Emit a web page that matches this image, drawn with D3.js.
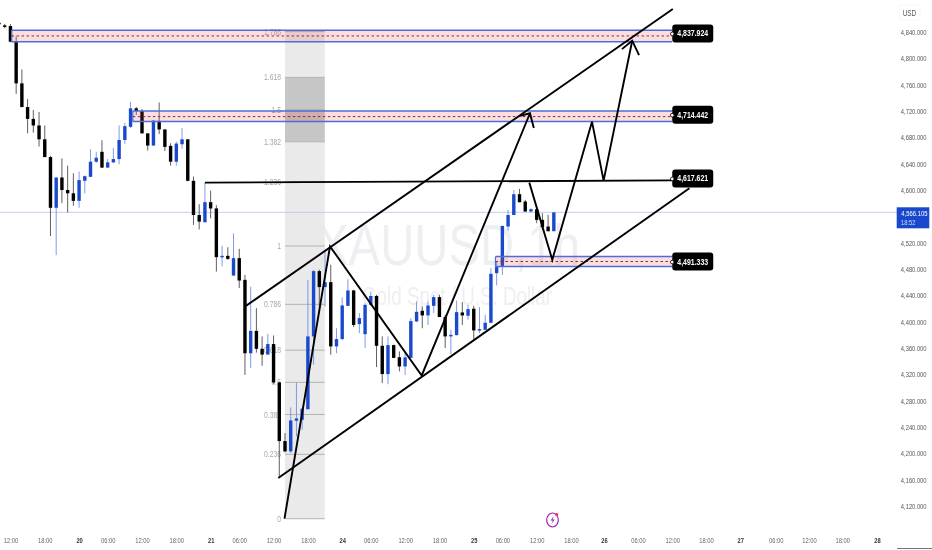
<!DOCTYPE html>
<html>
<head>
<meta charset="utf-8">
<script src="https://cdn.jsdelivr.net/npm/d3@7"></script>
<style>
  html, body { margin: 0; padding: 0; background: #fff; }
  svg { display: block; filter: blur(0.3px); }
  text { font-family: "Liberation Sans", sans-serif; }
</style>
</head>
<body>
<svg id="chart"></svg>
<script>
// hourly candles
let opens = [4854,4850,4849,4825,4762,4726,4708,4698,4677,4650,
  4573,4619,4600,4595,4583.5,4614,4620,4643,4658,4634,
  4642,4647,4676,4696,4724,4720,4686,4667.5,4705,4692,
  4667,4643,4669.5,4677,4614,4562,4551,4581.5,4572,4498,
  4500,4470,4496.5,4463.5,4352,4386,4358.8,4350,4366,4307.7,
  4218.6,4203,4249.5,4251,4267,4377.6,4476.8,4452.5,4460,4362.4,
  4373.5,4424,4447.4,4396.3,4381,4425.6,4439,4363.4,4320.4,4364.4,
  4346,4332,4345,4400.4,4416.5,4409.5,4424,4437.3,4407,4377.6,
  4379.6,4414,4409,4419.6,4387.7,4387.7,4398.3,4473.7,4483.8,4544.5,
  4562,4593.6,4582.5,4567.3,4570.8,4554.6,4544.5,4537.4];
let closes = [4852,4848.6,4825.4,4762,4726,4708,4698,4677,4650,4573,
  4619,4600,4595,4583.5,4615,4621,4643,4649,4634,4642,
  4647,4676,4697,4724,4720,4686,4667.5,4705.4,4692,4665.5,
  4643,4670.5,4677,4614,4562,4552,4581.5,4572,4498,4500,
  4495.4,4496.5,4462.5,4352,4386,4358.8,4350,4366,4307.7,4218.6,
  4203,4250,4253,4267.8,4377.6,4476.8,4452.5,4460,4362.4,4373.5,
  4424.6,4447.4,4395,4405.4,4425.6,4439,4363.4,4320.4,4364.4,4345,
  4332,4345.7,4400.9,4415,4409.5,4424.6,4437.3,4407,4377.6,4380,
  4414.5,4409.5,4419,4386.7,4388.7,4398.3,4472.7,4483.8,4545.5,4562,
  4593.6,4581.4,4567.3,4570.8,4554.6,4543.5,4537.4,4566];
let highs = [4856,4852.2,4852,4833,4783,4738,4721.6,4718.6,4698,4652,
  4619,4648,4637,4625.5,4628,4622,4662,4658,4675.6,4647,
  4663.5,4698,4702,4734,4726,4723,4686,4706.4,4733,4692,
  4671,4673.5,4694,4677,4620.4,4578.4,4611,4599,4577,4515,
  4513,4534,4510.6,4471,4453,4420.5,4377.5,4381.5,4379,4308.7,
  4230.8,4269.7,4307.7,4268.8,4463.6,4478.8,4479,4509,4486.4,4390,
  4436.8,4464.6,4448.4,4413,4428,4445.9,4440.8,4377.6,4377.6,4365,
  4354.8,4352,4405.4,4430.7,4423,4430.7,4440.8,4440.8,4410.5,4387.7,
  4432,4429.7,4425.6,4424,4422,4410.5,4481.3,4491,4545.5,4569.8,
  4600,4601.7,4585,4572.3,4572.3,4564.7,4562.2,4566.5];
let lows = [4850.6,4845.6,4824.3,4746,4726,4686,4687,4666,4650,4530,
  4501,4580,4566,4576,4573,4595,4620,4641,4634,4634,
  4641,4639,4670,4694,4714,4686,4660,4667.5,4685,4659.4,
  4637,4637,4662.4,4613,4547,4540,4551,4557,4476,4484,
  4494,4470,4451,4319,4329.4,4353,4333,4350,4305.6,4165,
  4201.4,4200.4,4225.7,4236,4267,4334.6,4423,4423,4349.8,4352,
  4372.5,4424,4391.7,4382.6,4360,4424,4331,4306.7,4305,4344.7,
  4324.4,4319,4345,4399.3,4390,4395,4413,4407,4360,4350.8,
  4379,4395,4403,4373.5,4382.6,4387.7,4397.8,4455,4471,4537.9,
  4562,4581.4,4567.3,4565.8,4549.6,4539.4,4537,4537.4];

let priceTicks = [4840,4800,4760,4720,4680,4640,4600,4520,4480,4440,4400,4360,4320,4280,4240,4200,4160,4120];
let timeLabels = ['12:00','18:00','20','06:00','12:00','18:00','21','06:00','12:00','18:00','24','06:00','12:00','18:00','25','06:00','12:00','18:00','26','06:00','12:00','18:00','27','06:00','12:00','18:00','28'];
let timeIndex = [2,8,14,19,25,31,37,42,48,54,60,65,71,77,83,88,94,100,105.75,111.7,117.7,123.6,129.6,135.8,141.6,147.4,153.5];

let fibLevels = [0,0.236,0.382,0.5,0.618,0.786,1,1.236,1.382,1.5,1.618,1.786];
let fibLow = 4100.7, fibHigh = 4515;
let fibStart = 50, fibEnd = 56.95;

let zoneValues = ['4,837.924','4,714.442','4,491.333'];
let zoneStart = [2.2,23.4,86.8];
let zoneTop = [4842.6,4720,4498.9];
let zoneMid = [4834,4711.5,4491.4];
let zoneBottom = [4825.3,4704,4483.8];
let zoneLabelPrice = [4837.9,4714.4,4491.3];
let zoneEnd = 117.7;

// drawn lines as [candle index, price]
let upperChannel = [[43.18,4424],[117.8,4875]];
let lowerChannel = [[48.83,4162.5],[120.7,4602.7]];
let swingPath = [[49.91,4100.7],[57.87,4514.4],[73.9,4318.3],[92.83,4716.6]];
let swingArrow = [[91.1,4712.5],[92.83,4716.6],[93.5,4694.3]];
let forecastPath = [[92.71,4611.2],[96.73,4494],[103.67,4703.8],[105.7,4614.3],[110.7,4826.8]];
let forecastArrow = [[108.9,4814],[110.7,4826.8],[111.9,4805]];
let resistance = [[36,4611.2],[117.7,4614.6]];
let resistanceLabel = ['4,617.621', 4617.6];
let lastPrice = 4566.105;
let countdown = '18:52';

let width = 932, height = 550;

let svg = d3.select('#chart').attr('width', width).attr('height', height);

let xScale = d3.scaleLinear().domain([0, 100]).range([-1, 571]);
let yScale = d3.scaleLinear().domain([4120, 4840]).range([506, 32]);

let pathLine = d3.line()
    .x(function(d) { return xScale(d[0]); })
    .y(function(d) { return yScale(d[1]); });

// the picture's text is narrower than any installed font, so squeeze it
function squeeze(sel, k) {
    sel.each(function() {
        this.setAttribute('textLength', this.getComputedTextLength() * k);
        this.setAttribute('lengthAdjust', 'spacingAndGlyphs');
    });
}

// ------------------ watermark ---------------------
svg.append('text')
    .attr('x', 448.5).attr('y', 265)
    .attr('text-anchor', 'middle')
    .attr('textLength', 263)
    .attr('lengthAdjust', 'spacingAndGlyphs')
    .style('font-size', '58px')
    .attr('fill', '#efeff3')
    .text('XAUUSD,1h');

svg.append('text')
    .attr('x', 457).attr('y', 305)
    .attr('text-anchor', 'middle')
    .attr('textLength', 190)
    .attr('lengthAdjust', 'spacingAndGlyphs')
    .style('font-size', '25px')
    .attr('fill', '#efeff3')
    .text('Gold Spot / U.S. Dollar');

// ------------------ fib box ---------------------
let fibPrice = function(l) { return fibLow + l * (fibHigh - fibLow); };
let fibX = xScale(fibStart), fibW = xScale(fibEnd) - xScale(fibStart);

svg.append('rect')
    .attr('x', fibX).attr('width', fibW)
    .attr('y', yScale(fibPrice(1.786)))
    .attr('height', yScale(fibPrice(0)) - yScale(fibPrice(1.786)))
    .attr('fill', '#e8e8e8')
    .attr('fill-opacity', 0.9);

svg.append('rect')
    .attr('x', fibX).attr('width', fibW)
    .attr('y', yScale(fibPrice(1.618)))
    .attr('height', yScale(fibPrice(1.382)) - yScale(fibPrice(1.618)))
    .attr('fill', '#c6c6c6');

svg.selectAll('.fib-line')
    .data(fibLevels)
    .enter()
    .append('line')
    .attr('class', 'fib-line')
    .attr('x1', fibX).attr('x2', fibX + fibW)
    .attr('y1', function(d) { return yScale(fibPrice(d)); })
    .attr('y2', function(d) { return yScale(fibPrice(d)); })
    .attr('stroke', '#b4b4b4')
    .attr('stroke-width', 1);

svg.selectAll('.fib-label')
    .data(fibLevels)
    .enter()
    .append('text')
    .attr('class', 'fib-label')
    .attr('x', fibX - 4)
    .attr('y', function(d) { return yScale(fibPrice(d)) + 3; })
    .attr('text-anchor', 'end')
    .style('font-size', '8.5px')
    .attr('fill', '#a8a8a8')
    .text(function(d) { return d; })
    .call(squeeze, 0.8);

// ------------------ last price line ---------------------
svg.append('line')
    .attr('x1', 0).attr('x2', 897)
    .attr('y1', yScale(lastPrice)).attr('y2', yScale(lastPrice))
    .attr('stroke', '#c3cdf0')
    .attr('stroke-width', 1);

// ------------------ candles ---------------------
let blue = '#1a49cc';
let candles = svg.append('g').selectAll('g')
    .data(opens)
    .enter()
    .append('g');

candles.append('line')
    .attr('x1', function(d, i) { return xScale(i); })
    .attr('x2', function(d, i) { return xScale(i); })
    .attr('y1', function(d, i) { return yScale(highs[i]); })
    .attr('y2', function(d, i) { return yScale(lows[i]); })
    .attr('stroke', function(d, i) { return closes[i] > d ? '#6f90e6' : '#4d4d4d'; })
    .attr('stroke-width', 0.9);

candles.append('rect')
    .attr('x', function(d, i) { return xScale(i) - 1.7; })
    .attr('width', 3.4)
    .attr('y', function(d, i) { return yScale(Math.max(d, closes[i])); })
    .attr('height', function(d, i) { return Math.max(1.5, Math.abs(yScale(d) - yScale(closes[i]))); })
    .attr('fill', function(d, i) { return closes[i] > d ? blue : '#000'; });

// ------------------ zones ---------------------
zoneValues.forEach(function(v, i) {
    let x1 = xScale(zoneStart[i]), x2 = xScale(zoneEnd);
    svg.append('rect')
        .attr('x', x1).attr('width', x2 - x1)
        .attr('y', yScale(zoneTop[i]))
        .attr('height', yScale(zoneBottom[i]) - yScale(zoneTop[i]))
        .attr('fill', '#f23645')
        .attr('fill-opacity', 0.17);
    [zoneTop[i], zoneBottom[i]].forEach(function(p) {
        svg.append('line')
            .attr('x1', x1).attr('x2', x2)
            .attr('y1', yScale(p)).attr('y2', yScale(p))
            .attr('stroke', '#4a6fd8')
            .attr('stroke-width', 1.6);
    });
    svg.append('line')
        .attr('x1', x1).attr('x2', x1)
        .attr('y1', yScale(zoneTop[i])).attr('y2', yScale(zoneBottom[i]))
        .attr('stroke', '#4a6fd8')
        .attr('stroke-width', 1.2);
    svg.append('line')
        .attr('x1', x1).attr('x2', x2)
        .attr('y1', yScale(zoneMid[i])).attr('y2', yScale(zoneMid[i]))
        .attr('stroke', '#6e3b3b')
        .attr('stroke-width', 1)
        .attr('stroke-dasharray', '2.5 2.5');
});

// ------------------ drawn lines ---------------------
[upperChannel, lowerChannel, swingPath, swingArrow, forecastPath, forecastArrow, resistance].forEach(function(p) {
    svg.append('path')
        .attr('d', pathLine(p))
        .attr('fill', 'none')
        .attr('stroke', '#000')
        .attr('stroke-width', 1.9);
});

// ------------------ price tags ---------------------
let tagX = xScale(zoneEnd);
let tagValues = zoneValues.concat([resistanceLabel[0]]);
let tagPrices = zoneLabelPrice.concat([resistanceLabel[1]]);

tagValues.forEach(function(v, i) {
    let y = yScale(tagPrices[i]);
    svg.append('rect')
        .attr('x', tagX).attr('y', y - 9)
        .attr('width', 41).attr('height', 18)
        .attr('rx', 3)
        .attr('fill', '#000');
    svg.append('text')
        .attr('x', tagX + 20.5).attr('y', y + 3)
        .attr('text-anchor', 'middle')
        .style('font-size', '9px')
        .style('font-weight', 'bold')
        .attr('fill', '#fff')
        .text(v)
        .call(squeeze, 0.77);
    svg.append('circle')
        .attr('cx', tagX).attr('cy', y + 0.5)
        .attr('r', 1.8)
        .attr('fill', '#fff')
        .attr('stroke', '#000')
        .attr('stroke-width', 0.8);
});

// ------------------ axes ---------------------
let yAxis = d3.axisRight(yScale)
    .tickValues(priceTicks)
    .tickFormat(d3.format(',.3f'))
    .tickSize(0)
    .tickPadding(0);

// near the window edge: scale from the right end instead of textLength
let yG = svg.append('g')
    .attr('transform', 'translate(926.5,0)')
    .call(yAxis);
yG.select('.domain').remove();
yG.selectAll('text')
    .attr('x', 0)
    .attr('text-anchor', 'end')
    .attr('transform', 'scale(0.72,1)')
    .style('font-size', '8px')
    .attr('fill', '#555');

let xAxis = d3.axisBottom(xScale)
    .tickValues(timeIndex)
    .tickFormat(function(d, i) { return timeLabels[i]; })
    .tickSize(0)
    .tickPadding(0);

let xG = svg.append('g')
    .attr('transform', 'translate(0,537)')
    .call(xAxis);
xG.select('.domain').remove();
xG.selectAll('text')
    .style('font-size', '8px')
    .style('font-weight', function(d, i) { return timeLabels[i].length < 3 ? 'bold' : 'normal'; })
    .attr('fill', function(d, i) { return timeLabels[i].length < 3 ? '#333' : '#666'; })
    .call(squeeze, 0.72);

// ------------------ currency and last price tag ---------------------
svg.append('rect')
    .attr('x', 899).attr('y', 5).attr('width', 21).attr('height', 15)
    .attr('rx', 2)
    .attr('fill', '#fff')
    .attr('stroke', '#f5f5f5');
svg.append('text')
    .attr('x', 909.5).attr('y', 15.5)
    .attr('text-anchor', 'middle')
    .style('font-size', '8.5px')
    .attr('fill', '#555')
    .text('USD')
    .call(squeeze, 0.75);

svg.append('rect')
    .attr('x', 896.7).attr('y', 207.3).attr('width', 32.6).attr('height', 21)
    .attr('fill', '#1848cc');
svg.append('text')
    .attr('transform', 'translate(927.5,215.5) scale(0.74,1)')
    .attr('text-anchor', 'end')
    .style('font-size', '8px')
    .attr('fill', '#fff')
    .text(d3.format(',.3f')(lastPrice));
svg.append('text')
    .attr('x', 901).attr('y', 224.5)
    .style('font-size', '8px')
    .attr('fill', '#d5def8')
    .text(countdown)
    .call(squeeze, 0.72);

svg.append('line')
    .attr('x1', 897).attr('x2', 932)
    .attr('y1', 548.5).attr('y2', 548.5)
    .attr('stroke', '#777');

// ------------------ bolt icon ---------------------
svg.append('ellipse')
    .attr('cx', 552.5).attr('cy', 520).attr('rx', 5.8).attr('ry', 7)
    .attr('fill', '#fff')
    .attr('stroke', '#9c27b0')
    .attr('stroke-width', 1.2);
svg.append('path')
    .attr('d', 'M553.8 516 L550.6 520.6 L552.8 520.6 L551.4 524 L554.8 519.4 L552.6 519.4 Z')
    .attr('fill', '#9c27b0');
svg.append('circle')
    .attr('cx', 556.7).attr('cy', 514.5).attr('r', 1.6)
    .attr('fill', '#f23645');
</script>
</body>
</html>
